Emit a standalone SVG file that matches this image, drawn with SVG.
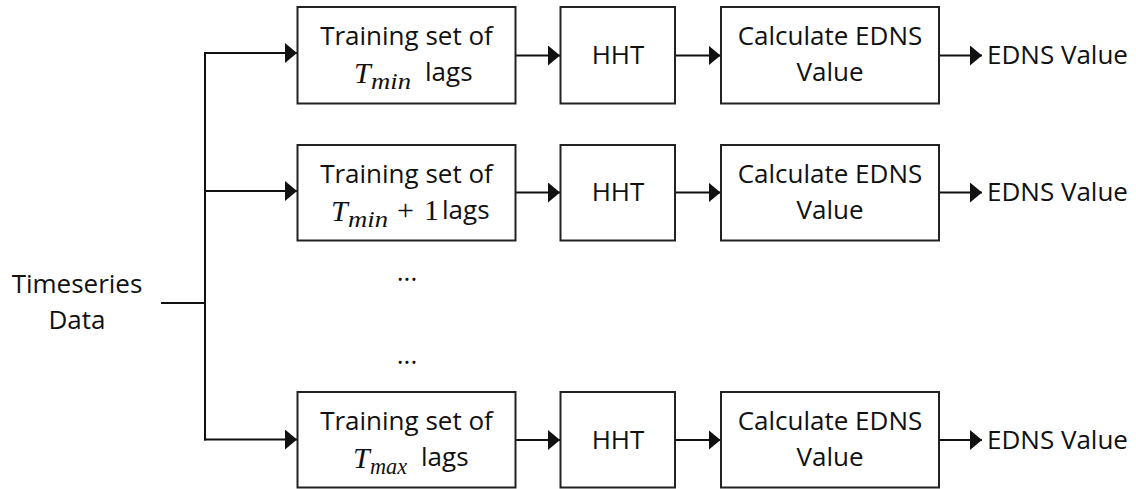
<svg xmlns="http://www.w3.org/2000/svg" width="1136" height="489" viewBox="0 0 1136 489">
<style>
.box{fill:#fff;stroke:#222;stroke-width:2}
.t{font-family:"Open Sans","Liberation Sans",sans-serif;font-size:26px;fill:#111}
.c{text-anchor:middle}
.m{font-family:"Liberation Serif","DejaVu Serif",serif;font-style:italic;fill:#111}
.u{font-family:"Liberation Serif","DejaVu Serif",serif;fill:#111}
.ln{fill:none;stroke:#111;stroke-width:2}
.ar{fill:none;stroke:#111;stroke-width:2;marker-end:url(#ah)}
</style>
<defs>
<marker id="ah" viewBox="0 0 12 20" refX="12" refY="10" markerWidth="12" markerHeight="20" markerUnits="userSpaceOnUse" orient="auto">
<path d="M0,0 L12,10 L0,20 Z" fill="#111"/>
</marker>
</defs>
<rect width="1136" height="489" fill="#fff"/>
<g id="connectors">
<line class="ln" x1="161" y1="303" x2="205" y2="303"/>
<line class="ln" x1="205" y1="52.5" x2="205" y2="440.5"/>
<polyline class="ar" points="204,53 297,53"/>
<polyline class="ar" points="204,191 297,191"/>
<polyline class="ar" points="204,439.5 297,439.5"/>
<line class="ar" x1="516" y1="55.5" x2="560" y2="55.5"/>
<line class="ar" x1="675" y1="55.5" x2="720.5" y2="55.5"/>
<line class="ar" x1="939" y1="55.5" x2="982" y2="55.5"/>
<line class="ar" x1="516" y1="192.5" x2="560" y2="192.5"/>
<line class="ar" x1="675" y1="192.5" x2="720.5" y2="192.5"/>
<line class="ar" x1="939" y1="192.5" x2="982" y2="192.5"/>
<line class="ar" x1="516" y1="440" x2="560" y2="440"/>
<line class="ar" x1="675" y1="440" x2="720.5" y2="440"/>
<line class="ar" x1="939" y1="440" x2="982" y2="440"/>
</g>
<g id="input">
<text class="t c" x="77" y="293">Timeseries</text>
<text class="t c" x="77" y="329">Data</text>
</g>
<g id="train1">
<rect class="box" x="297.5" y="7" width="218" height="96.5"/>
<text class="t c" x="406.5" y="45">Training set of</text>
<text class="m" x="354" y="83" font-size="30">T</text>
<text class="m" x="371" y="89" font-size="23" textLength="40" lengthAdjust="spacingAndGlyphs">min</text>
<text class="t" x="425" y="81">lags</text>
</g>
<g id="hht1">
<rect class="box" x="560.5" y="7" width="114.5" height="96.5"/>
<text class="t c" x="618" y="64">HHT</text>
</g>
<g id="calc1">
<rect class="box" x="721" y="7" width="218" height="96.5"/>
<text class="t c" x="830" y="45">Calculate EDNS</text>
<text class="t c" x="830" y="81">Value</text>
</g>
<g id="out1"><text class="t" x="987" y="64">EDNS Value</text></g>
<g id="train2">
<rect class="box" x="297.5" y="145" width="218" height="95.5"/>
<text class="t c" x="406.5" y="183">Training set of</text>
<text class="m" x="331" y="221" font-size="30">T</text>
<text class="m" x="348" y="227" font-size="23" textLength="40" lengthAdjust="spacingAndGlyphs">min</text>
<text class="u" x="397" y="220" font-size="30">+</text>
<text class="u" x="424" y="220" font-size="30">1</text>
<text class="t" x="442" y="219">lags</text>
</g>
<g id="hht2">
<rect class="box" x="560.5" y="145" width="114.5" height="95.5"/>
<text class="t c" x="618" y="201">HHT</text>
</g>
<g id="calc2">
<rect class="box" x="721" y="145" width="218" height="95.5"/>
<text class="t c" x="830" y="183">Calculate EDNS</text>
<text class="t c" x="830" y="219">Value</text>
</g>
<g id="out2"><text class="t" x="987" y="201">EDNS Value</text></g>
<g id="dots">
<text class="t c" x="407" y="281">...</text>
<text class="t c" x="407" y="364">...</text>
</g>
<g id="train3">
<rect class="box" x="297.5" y="392" width="218" height="95.5"/>
<text class="t c" x="406.5" y="430">Training set of</text>
<text class="m" x="353" y="468" font-size="30">T</text>
<text class="m" x="370" y="474" font-size="23" textLength="37" lengthAdjust="spacingAndGlyphs">max</text>
<text class="t" x="421" y="466">lags</text>
</g>
<g id="hht3">
<rect class="box" x="560.5" y="392" width="114.5" height="95.5"/>
<text class="t c" x="618" y="449">HHT</text>
</g>
<g id="calc3">
<rect class="box" x="721" y="392" width="218" height="95.5"/>
<text class="t c" x="830" y="430">Calculate EDNS</text>
<text class="t c" x="830" y="466">Value</text>
</g>
<g id="out3"><text class="t" x="987" y="449">EDNS Value</text></g>
</svg>
